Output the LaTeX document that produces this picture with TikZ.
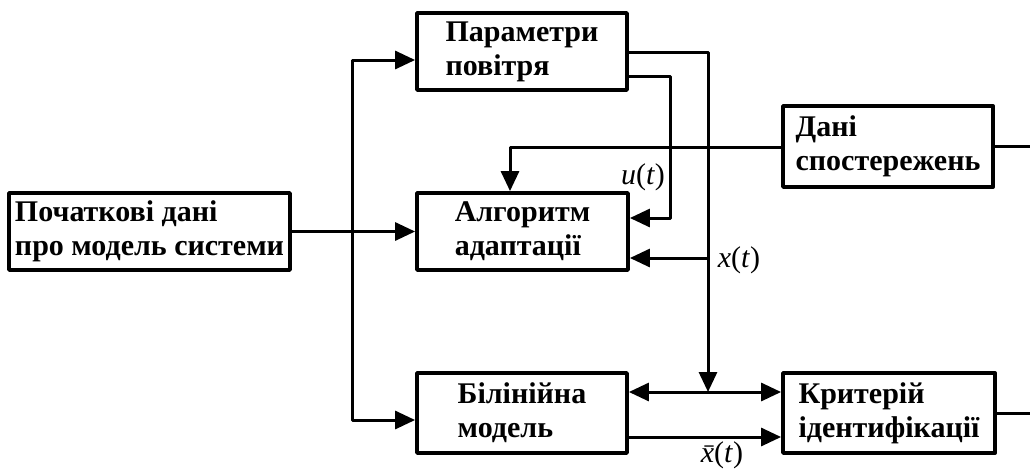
\documentclass[tikz,border=0pt]{standalone}
\usepackage{fontspec}
\usepackage{graphicx}
\setmainfont{Liberation Serif}
\usetikzlibrary{arrows.meta}
\newcommand{\xbarlabel}{\ooalign{\textit{x}\cr\hidewidth\kern0.1em\raisebox{-0.2em}{\scalebox{0.6}[1]{\char"00AF}}\hidewidth\cr}}
\begin{document}
\begin{tikzpicture}[x=1pt,y=-1pt, line width=3pt, line join=round,
  blk/.style={draw, line width=3.8pt, align=left, inner sep=0pt,
    font=\bfseries\fontsize{30}{34}\selectfont},
  tip/.tip={Triangle[length=20pt,width=18pt]},
  arr/.style={-tip},
  darr/.style={tip-tip},
  lbl/.style={font=\fontsize{30}{33}\selectfont, inner sep=0pt}]
\useasboundingbox (0,0) rectangle (1030,472);
% blocks
\node[blk, minimum width=281, minimum height=77] (init) at (149.5,231.5) {Початкові дані\\про модель системи};
\node[blk, minimum width=210, minimum height=77] (par) at (522,51.5) {Параметри\\повітря};
\node[blk, minimum width=211, minimum height=77] (alg) at (522.5,231.5) {Алгоритм\\адаптації};
\node[blk, minimum width=210, minimum height=80] (bil) at (522,413) {Білінійна\\модель};
\node[blk, minimum width=210, minimum height=81] (obs) at (888,146.5) {Дані\\спостережень};
\node[blk, minimum width=212, minimum height=80] (crit) at (889,413) {Критерій\\ідентифікації};
% helper coordinates
\coordinate (j1) at (352,60);
\coordinate (j2) at (352,420);
\coordinate (o1) at (708,52);
\coordinate (o2) at (670,76);
\coordinate (u1) at (670,218);
\coordinate (x1) at (708,258);
\coordinate (d1) at (708,392);
\coordinate (dd) at (510,147);
\coordinate (xb) at (700,437);
\coordinate (r1) at (1030,146.5);
\coordinate (r2) at (1030,413);
% connectors
\draw[arr] (init.east) -- (alg.west);
\draw[darr] (j1 -| par.west) -- (j1) -- (j2) -- (j2 -| bil.west);
\draw[arr] (par.east |- o1) -- (o1) -- (d1);
\draw[arr] (par.east |- o2) -- (o2) -- (u1) -- (u1 -| alg.east);
\draw[arr] (x1) -- (x1 -| alg.east);
\draw[arr] (obs.west |- dd) -- (dd) -- (dd |- alg.north);
\draw (obs.east) -- (r1);
\draw[darr] (bil.east |- d1) -- (crit.west |- d1);
\draw[arr] (bil.east |- xb) -- (crit.west |- xb);
\draw (crit.east) -- (r2);
% labels
\node[lbl] (ul) at (643,177) {\textit{u}(\textit{t})};
\node[lbl] (xl) at (739,260) {\textit{x}(\textit{t})};
\node[lbl] (xbl) at (722,455) {\xbarlabel(\textit{t})};
\end{tikzpicture}
\end{document}
